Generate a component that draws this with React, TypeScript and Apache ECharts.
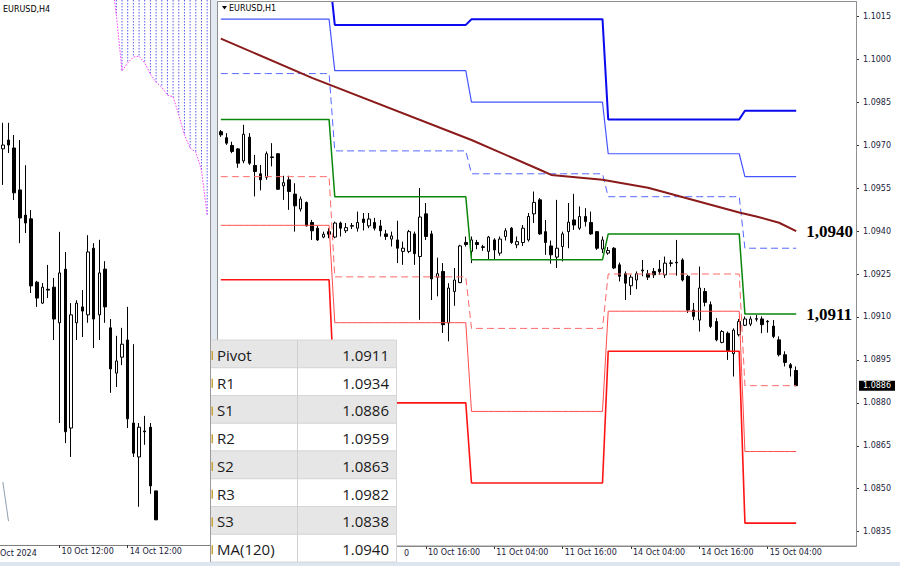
import React, { useEffect, useRef } from 'react';
import * as echarts from 'echarts';

const FONT = 'DejaVu Sans';
const AXIS_TEXT = '#1b1b3a';

// ---------------- H1 panel data ----------------
const h1Days = ['9 Oct', '10 Oct', '11 Oct', '14 Oct', '15 Oct'];
const h1FirstHour = [4, 0, 0, 0, 0];
const h1LastHour = [23, 23, 23, 23, 19];

// [open, close, low, high]
const h1Candles: number[][] = [
  [1.09747, 1.09736, 1.09729, 1.09753],
  [1.09726, 1.09707, 1.09701, 1.09742],
  [1.09699, 1.09678, 1.09672, 1.09712],
  [1.09687, 1.09637, 1.09621, 1.0969],
  [1.09645, 1.09738, 1.09637, 1.09771],
  [1.09728, 1.09637, 1.09631, 1.09742],
  [1.09629, 1.09608, 1.09521, 1.09666],
  [1.096, 1.09579, 1.09542, 1.09631],
  [1.09588, 1.0967, 1.09579, 1.09678],
  [1.09659, 1.09657, 1.09626, 1.09707],
  [1.0967, 1.09546, 1.09544, 1.09672],
  [1.09558, 1.09569, 1.09509, 1.09593],
  [1.09579, 1.09538, 1.09474, 1.09593],
  [1.09529, 1.09488, 1.09398, 1.09567],
  [1.09477, 1.09512, 1.09468, 1.09521],
  [1.095, 1.09418, 1.09416, 1.09503],
  [1.0943, 1.09401, 1.09369, 1.09439],
  [1.0941, 1.09369, 1.09366, 1.09418],
  [1.09379, 1.09389, 1.09375, 1.09398],
  [1.09398, 1.09389, 1.09375, 1.0941],
  [1.09379, 1.09428, 1.09375, 1.09433],
  [1.09428, 1.0941, 1.09381, 1.09433],
  [1.09401, 1.09412, 1.09393, 1.09428],
  [1.09417, 1.09419, 1.09407, 1.09428],
  [1.0941, 1.0943, 1.09398, 1.09468],
  [1.09442, 1.0943, 1.09402, 1.09463],
  [1.09418, 1.09442, 1.0941, 1.09463],
  [1.0943, 1.0941, 1.09402, 1.09446],
  [1.09418, 1.09401, 1.09381, 1.09439],
  [1.0939, 1.09381, 1.09369, 1.09404],
  [1.09372, 1.09383, 1.09346, 1.09398],
  [1.09369, 1.0934, 1.09288, 1.09436],
  [1.09329, 1.0934, 1.09282, 1.09363],
  [1.09329, 1.09398, 1.09323, 1.09404],
  [1.0939, 1.09321, 1.09282, 1.09398],
  [1.09311, 1.09449, 1.0909, 1.0955],
  [1.0946, 1.09381, 1.09369, 1.09498],
  [1.0939, 1.09233, 1.09159, 1.09401],
  [1.09239, 1.09251, 1.09172, 1.09307],
  [1.09259, 1.09073, 1.09044, 1.09288],
  [1.09079, 1.09201, 1.09015, 1.09218],
  [1.09189, 1.09229, 1.09139, 1.09271],
  [1.0922, 1.09348, 1.09218, 1.09352],
  [1.0936, 1.09353, 1.09346, 1.09381],
  [1.09329, 1.09369, 1.09288, 1.09381],
  [1.0936, 1.09353, 1.09337, 1.09369],
  [1.09345, 1.09343, 1.09331, 1.09352],
  [1.09329, 1.09379, 1.09302, 1.09383],
  [1.09369, 1.09334, 1.09299, 1.09375],
  [1.09323, 1.09372, 1.09314, 1.09381],
  [1.09381, 1.09401, 1.09367, 1.0941],
  [1.0941, 1.0936, 1.09355, 1.09414],
  [1.09352, 1.09363, 1.0934, 1.09381],
  [1.0936, 1.0941, 1.09348, 1.09421],
  [1.09369, 1.09451, 1.09363, 1.09463],
  [1.0946, 1.095, 1.09428, 1.09538],
  [1.09509, 1.0939, 1.09387, 1.09515],
  [1.09398, 1.0936, 1.09317, 1.09439],
  [1.09348, 1.09317, 1.09286, 1.09367],
  [1.09309, 1.0934, 1.09271, 1.09509],
  [1.09346, 1.0939, 1.09294, 1.09398],
  [1.09398, 1.09431, 1.0934, 1.09498],
  [1.09439, 1.09421, 1.09404, 1.0953],
  [1.0941, 1.09451, 1.09404, 1.09486],
  [1.09451, 1.09433, 1.09416, 1.0948],
  [1.0943, 1.0939, 1.09387, 1.09468],
  [1.09398, 1.0934, 1.09334, 1.094],
  [1.09337, 1.09369, 1.09323, 1.09381],
  [1.09323, 1.09332, 1.09317, 1.09344],
  [1.0934, 1.09271, 1.09267, 1.09344],
  [1.09282, 1.09242, 1.09224, 1.0929],
  [1.09251, 1.09218, 1.09159, 1.09259],
  [1.09209, 1.09239, 1.09177, 1.09247],
  [1.09229, 1.09251, 1.09197, 1.09259],
  [1.09261, 1.09264, 1.09242, 1.09299],
  [1.09251, 1.09239, 1.09229, 1.09264],
  [1.09259, 1.09247, 1.09236, 1.09271],
  [1.09267, 1.09258, 1.09247, 1.09299],
  [1.09247, 1.09288, 1.09236, 1.09311],
  [1.09287, 1.09289, 1.09276, 1.09299],
  [1.09291, 1.09289, 1.09244, 1.09369],
  [1.09299, 1.09229, 1.09224, 1.09305],
  [1.09242, 1.09124, 1.09114, 1.09247],
  [1.09124, 1.09102, 1.09089, 1.09149],
  [1.09089, 1.09201, 1.09049, 1.09276],
  [1.09189, 1.09151, 1.09137, 1.09201],
  [1.09143, 1.09067, 1.09061, 1.09154],
  [1.09084, 1.0902, 1.09015, 1.09096],
  [1.09011, 1.09049, 1.09008, 1.09054],
  [1.09043, 1.08983, 1.0895, 1.09049],
  [1.08972, 1.09054, 1.08892, 1.0906],
  [1.09038, 1.09084, 1.09032, 1.09093],
  [1.09071, 1.09093, 1.09068, 1.09102],
  [1.09075, 1.09093, 1.09068, 1.09102],
  [1.09092, 1.09094, 1.09084, 1.09107],
  [1.09093, 1.09073, 1.09043, 1.09102],
  [1.09085, 1.09083, 1.09045, 1.09089],
  [1.09068, 1.09032, 1.09026, 1.09089],
  [1.0902, 1.08968, 1.08962, 1.09032],
  [1.08968, 1.08941, 1.08927, 1.0898],
  [1.08933, 1.08922, 1.08892, 1.08939],
  [1.08913, 1.0886, 1.08858, 1.08927],
];

// daily pivot levels (one value per day of h1Days)
const pivotP = [1.0979, 1.0952, 1.093, 1.0939, 1.0911];
const pivotR1 = [1.0995, 1.0968, 1.096, 1.0952, 1.0934];
const pivotR2 = [1.1014, 1.0996, 1.0985, 1.0967, 1.0959];
const pivotR3 = [1.1031, 1.1012, 1.1014, 1.0979, 1.0982];
const pivotS1 = [1.0959, 1.0924, 1.0906, 1.0925, 1.0886];
const pivotS2 = [1.0942, 1.0908, 1.0877, 1.0912, 1.0863];
const pivotS3 = [1.0923, 1.088, 1.0852, 1.0898, 1.0838];

// MA(120) read at a few bars
const maBarIndex = [0, 16, 44, 56, 58, 67, 75, 91, 94, 98, 101];
const maValues = [1.10072, 1.09935, 1.09718, 1.09614, 1.09596, 1.09579, 1.09551, 1.09465, 1.09451, 1.09429, 1.094];

const h1PriceTicks = [1.0835, 1.085, 1.0865, 1.088, 1.0895, 1.091, 1.0925, 1.094, 1.0955, 1.097, 1.0985, 1.1, 1.1015];
const h1LabelEvery = 12;
const h1FirstShownLabel = 36;
const lastPrice = 1.0886;

// ---------------- H4 panel data ----------------
const h4Days = ['8 Oct', '9 Oct', '10 Oct', '11 Oct', '14 Oct', '15 Oct', '16 Oct'];
const h4FirstHour = [20, 0, 0, 0, 0, 0, 0];
const h4Candles: number[][] = [
  [1.09745, 1.09754, 1.09659, 1.09807],
  [1.09766, 1.09754, 1.09735, 1.09807],
  [1.09747, 1.0964, 1.09623, 1.09778],
  [1.09647, 1.0958, 1.0952, 1.09766],
  [1.09587, 1.09568, 1.09544, 1.09706],
  [1.09578, 1.09418, 1.09401, 1.09599],
  [1.09427, 1.09389, 1.09368, 1.0943],
  [1.09377, 1.09415, 1.09375, 1.09425],
  [1.0941, 1.09408, 1.09389, 1.09468],
  [1.09415, 1.09339, 1.09289, 1.09437],
  [1.0933, 1.09449, 1.09091, 1.09547],
  [1.09458, 1.0907, 1.09043, 1.09499],
  [1.09079, 1.09349, 1.0901, 1.09377],
  [1.0933, 1.09377, 1.09289, 1.09384],
  [1.09368, 1.09358, 1.09296, 1.09408],
  [1.09349, 1.09499, 1.0933, 1.09539],
  [1.09508, 1.09339, 1.0927, 1.0952],
  [1.09349, 1.09449, 1.09289, 1.09528],
  [1.09458, 1.09368, 1.0933, 1.09477],
  [1.09318, 1.0922, 1.09163, 1.09339],
  [1.0921, 1.09239, 1.09177, 1.09299],
  [1.09248, 1.09279, 1.09229, 1.09318],
  [1.09289, 1.09101, 1.09079, 1.09368],
  [1.09091, 1.09019, 1.0901, 1.09279],
  [1.0901, 1.09081, 1.08891, 1.09091],
  [1.09072, 1.0907, 1.09039, 1.09108],
  [1.09081, 1.08941, 1.08922, 1.09091],
  [1.08929, 1.0886, 1.0886, 1.08929],
];
const h4LabelBars = [10, 22];
const cloudBarIndex = [19, 20, 21, 22, 23, 24, 25, 26, 27, 28, 29, 30, 31, 32, 33, 34, 35, 36];
const cloudLowerEdge = [1.10172, 1.10064, 1.09931, 1.0995, 1.09964, 1.09966, 1.0995, 1.09923, 1.09904, 1.09892, 1.09873, 1.09869, 1.09826, 1.09778, 1.09747, 1.09737, 1.09694, 1.09587];
const h4TrailBarIndex = [0, 1];
const h4TrailValues = [1.0895, 1.08857];

const tableLabels = ['Pivot', 'R1', 'S1', 'R2', 'S2', 'R3', 'S3', 'MA(120)'];

// ---------------- build helpers ----------------
const pad = (h: number) => String(h).padStart(2, '0');

const h1Cats: string[] = [];
const h1BarDay: number[] = [];
h1Days.forEach((d, k) => {
  for (let h = h1FirstHour[k]; h <= h1LastHour[k]; h++) {
    h1Cats.push(`${d} ${pad(h)}:00`);
    h1BarDay.push(k);
  }
});

const h4Cats: string[] = [];
h4Days.forEach((d, k) => {
  for (let h = h4FirstHour[k]; h <= 20; h += 4) h4Cats.push(`${d} ${pad(h)}:00`);
});

const levelSeriesData = (levels: number[]) =>
  h1Cats.map((_, i) => (i < h1Candles.length ? levels[h1BarDay[i]] : null));

const maData: (number | null)[] = h1Cats.map(() => null);
maBarIndex.forEach((b, k) => (maData[b] = maValues[k]));

const cloudEdgeData: (number | null)[] = h4Cats.map(() => null);
cloudBarIndex.forEach((b, k) => (cloudEdgeData[b] = cloudLowerEdge[k]));

const trailData: (number | null)[] = h4Cats.map(() => null);
h4TrailBarIndex.forEach((b, k) => (trailData[b] = h4TrailValues[k]));

const lastDay = h1Days.length - 1;
const tableValues = [
  pivotP[lastDay], pivotR1[lastDay], pivotS1[lastDay], pivotR2[lastDay],
  pivotS2[lastDay], pivotR3[lastDay], pivotS3[lastDay], maValues[maValues.length - 1],
];

const commaFmt = (p: any) => Number(p.value).toFixed(4).replace('.', ',');

const endLabelStyle = {
  show: true,
  formatter: commaFmt,
  fontFamily: 'Liberation Serif',
  fontWeight: 'bold',
  fontSize: 17,
  color: '#000',
  distance: 10,
};

function levelLine(name: string, levels: number[], color: string, width: number, dashed: boolean, extra: any = {}) {
  return {
    type: 'line',
    name,
    xAxisIndex: 1,
    yAxisIndex: 1,
    data: levelSeriesData(levels),
    symbol: 'none',
    showSymbol: false,
    silent: true,
    z: 3,
    lineStyle: { color, width, type: dashed ? [7, 4] : 'solid' },
    ...extra,
  };
}

const candleStyle = {
  color: '#ffffff',
  color0: '#000000',
  borderColor: '#000000',
  borderColor0: '#000000',
  borderWidth: 1,
};

function txt(text: string, x: number, y: number, size: number, extra: any = {}) {
  const align = extra.align || 'left';
  return {
    type: 'text',
    x,
    y,
    z: extra.z ?? 20,
    style: {
      text,
      fill: extra.fill || '#000',
      fontSize: size,
      fontFamily: extra.family || FONT,
      fontWeight: extra.weight || 'normal',
      align,
      textAlign: align,
      verticalAlign: 'middle',
      textVerticalAlign: 'middle',
    },
  };
}

const h1LabelShown = (i: number) => i % h1LabelEvery === 0 && i >= h1FirstShownLabel && i < h1Candles.length;

function buildGraphic(priceY: number | null) {
  const g: any[] = [];
  // splitter between panels
  g.push({ type: 'rect', z: 1, shape: { x: 210.5, y: 0, width: 7, height: 562 }, style: { fill: '#e3e9f0' } });
  g.push({ type: 'line', z: 5, shape: { x1: 210.5, y1: 0, x2: 210.5, y2: 546 }, style: { stroke: '#8f8f8f', lineWidth: 1 } });
  g.push({ type: 'rect', z: 5, shape: { x: 217.5, y: 1.5, width: 639, height: 544.5 }, style: { fill: 'none', stroke: '#8f8f8f', lineWidth: 1 } });
  g.push({ type: 'rect', z: 1, shape: { x: 0, y: 562, width: 900, height: 4 }, style: { fill: '#dde6f0' } });
  // titles
  g.push(txt('EURUSD,H4', 3, 9, 8));
  g.push({ type: 'polygon', z: 20, shape: { points: [[222, 6], [227, 6], [224.5, 9.5]] }, style: { fill: '#000' } });
  g.push(txt('EURUSD,H1', 229, 8, 8));
  g.push(txt('Oct 2024', 0, 553, 8, { fill: AXIS_TEXT }));
  // tail of a time label partly hidden by the table
  g.push(txt('0', 404, 553, 8, { fill: AXIS_TEXT }));

  // current price tag on the price scale (y from the axis scale)
  if (priceY != null && isFinite(priceY)) {
    g.push({ type: 'rect', z: 30, shape: { x: 859, y: priceY - 5, width: 36, height: 10 }, style: { fill: '#000' } });
    g.push(txt(lastPrice.toFixed(4), 877, priceY, 8, { fill: '#fff', z: 31, align: 'center' }));
  }

  // table
  const x0 = 210.5, xDiv = 297.5, x1 = 396.5, y0 = 340, rowH = 27.75;
  tableLabels.forEach((lab, k) => {
    const y = y0 + k * rowH;
    g.push({ type: 'rect', z: 100, shape: { x: x0, y, width: x1 - x0, height: rowH }, style: { fill: k % 2 === 0 ? '#e6e6e6' : '#ffffff', stroke: '#d6d6d6', lineWidth: 1 } });
    g.push({ type: 'rect', z: 101, shape: { x: 211.5, y: y + rowH / 2 - 3, width: 1.5, height: 9 }, style: { fill: '#c9a23a' } });
    g.push(txt(lab, 217, y + rowH / 2 + 1, 15, { family: 'Open Sans', fill: '#1a1a1a', z: 102 }));
    g.push(txt(tableValues[k].toFixed(4), 389, y + rowH / 2 + 1, 15, { family: 'Open Sans', fill: '#1a1a1a', z: 102, align: 'right' }));
  });
  g.push({ type: 'line', z: 101, shape: { x1: xDiv, y1: y0, x2: xDiv, y2: y0 + rowH * tableLabels.length }, style: { stroke: '#d0d0d0', lineWidth: 1 } });
  g.push({ type: 'line', z: 101, shape: { x1: x0, y1: y0, x2: x0, y2: y0 + rowH * tableLabels.length }, style: { stroke: '#9a9a9a', lineWidth: 1 } });
  return g;
}

function buildOption(): any {
  return {
    animation: false,
    backgroundColor: '#ffffff',
    textStyle: { fontFamily: FONT },
    grid: [
      { left: 0, top: 0, width: 210, height: 545 },
      { left: 218, top: 2, width: 638, height: 544 },
    ],
    xAxis: [
      {
        type: 'category',
        gridIndex: 0,
        data: h4Cats,
        boundaryGap: true,
        axisLine: { show: true, lineStyle: { color: '#7f7f7f', width: 1 } },
        axisTick: { show: true, alignWithLabel: true, length: 3, interval: (i: number) => h4LabelBars.includes(i), lineStyle: { color: '#333' } },
        axisLabel: { interval: (i: number) => h4LabelBars.includes(i), align: 'left', margin: 2, padding: [0, 0, 0, 2], fontSize: 8, fontFamily: FONT, color: AXIS_TEXT },
        splitLine: { show: false },
      },
      {
        type: 'category',
        gridIndex: 1,
        data: h1Cats,
        boundaryGap: true,
        axisLine: { show: true, lineStyle: { color: '#7f7f7f', width: 1 } },
        axisTick: { show: true, alignWithLabel: true, length: 3, interval: (i: number) => h1LabelShown(i), lineStyle: { color: '#333' } },
        axisLabel: { interval: (i: number) => h1LabelShown(i), align: 'left', margin: 2, padding: [0, 0, 0, 2], fontSize: 8, fontFamily: FONT, color: AXIS_TEXT },
        splitLine: { show: false },
      },
    ],
    yAxis: [
      { type: 'value', gridIndex: 0, min: 1.088, max: 1.101, show: false, splitLine: { show: false } },
      {
        type: 'value',
        gridIndex: 1,
        min: 1.083,
        max: 1.102,
        position: 'right',
        axisLine: { show: true, lineStyle: { color: '#7f7f7f', width: 1 } },
        axisTick: { show: true, inside: false, length: 3, customValues: h1PriceTicks, lineStyle: { color: '#333' } },
        axisLabel: { customValues: h1PriceTicks, formatter: (v: number) => v.toFixed(4), margin: 7, fontSize: 8, fontFamily: FONT, color: AXIS_TEXT },
        splitLine: { show: false },
      },
    ],
    series: [
      // ---- H4 panel ----
      {
        type: 'custom',
        name: 'cloud',
        xAxisIndex: 0,
        yAxisIndex: 0,
        silent: true,
        clip: true,
        z: 1,
        data: cloudBarIndex.map((b, k) => [b, cloudLowerEdge[k]]),
        encode: { x: 0, y: 1 },
        renderItem: (params: any, api: any) => {
          const p = api.coord([api.value(0), api.value(1)]);
          const top = params.coordSys.y;
          if (!(p[1] > top)) return { type: 'group', children: [] };
          return {
            type: 'line',
            shape: { x1: p[0], y1: top, x2: p[0], y2: p[1] },
            style: { stroke: '#5c5cf2', lineWidth: 1, lineDash: [1.5, 1.5] },
          };
        },
      },
      {
        type: 'line',
        name: 'cloud edge',
        xAxisIndex: 0,
        yAxisIndex: 0,
        data: cloudEdgeData,
        symbol: 'none',
        silent: true,
        z: 2,
        lineStyle: { color: '#ff3cff', width: 1, type: [1.5, 1.5] },
      },
      {
        type: 'line',
        name: 'trail',
        xAxisIndex: 0,
        yAxisIndex: 0,
        data: trailData,
        symbol: 'none',
        silent: true,
        lineStyle: { color: '#8fa0b0', width: 1 },
      },
      {
        type: 'candlestick',
        name: 'EURUSD H4',
        xAxisIndex: 0,
        yAxisIndex: 0,
        data: h4Candles,
        barWidth: 3,
        itemStyle: candleStyle,
        z: 3,
      },
      // ---- H1 panel ----
      {
        type: 'candlestick',
        name: 'EURUSD H1',
        xAxisIndex: 1,
        yAxisIndex: 1,
        data: h1Candles,
        barWidth: 3,
        itemStyle: candleStyle,
        z: 2,
      },
      levelLine('R3', pivotR3, '#0a0aee', 2, false),
      levelLine('R2', pivotR2, '#4455ff', 1.2, false),
      levelLine('R1', pivotR1, '#5466ff', 1, true),
      levelLine('Pivot', pivotP, '#0a870a', 1.5, false, { endLabel: endLabelStyle }),
      levelLine('S1', pivotS1, '#ff6868', 1, true),
      levelLine('S2', pivotS2, '#ff4c4c', 1, false),
      levelLine('S3', pivotS3, '#ff1414', 1.6, false),
      {
        type: 'line',
        name: 'MA(120)',
        xAxisIndex: 1,
        yAxisIndex: 1,
        data: maData,
        connectNulls: true,
        symbol: 'none',
        showSymbol: false,
        silent: true,
        z: 4,
        lineStyle: { color: '#8b1a1a', width: 2 },
        endLabel: endLabelStyle,
      },
    ],
    graphic: buildGraphic(null),
  };
}

export default function App() {
  const ref = useRef<HTMLDivElement>(null);
  useEffect(() => {
    const chart = echarts.init(ref.current as HTMLDivElement, null, { renderer: 'svg' });
    chart.setOption(buildOption());
    const py = chart.convertToPixel({ yAxisIndex: 1 } as any, lastPrice) as unknown as number;
    chart.setOption({ graphic: buildGraphic(py) }, { replaceMerge: ['graphic'] } as any);
    return () => chart.dispose();
  }, []);
  return (
    <div
      ref={ref}
      style={{ position: 'fixed', left: 0, top: 0, width: 900, height: 566, background: '#fff' }}
    />
  );
}
